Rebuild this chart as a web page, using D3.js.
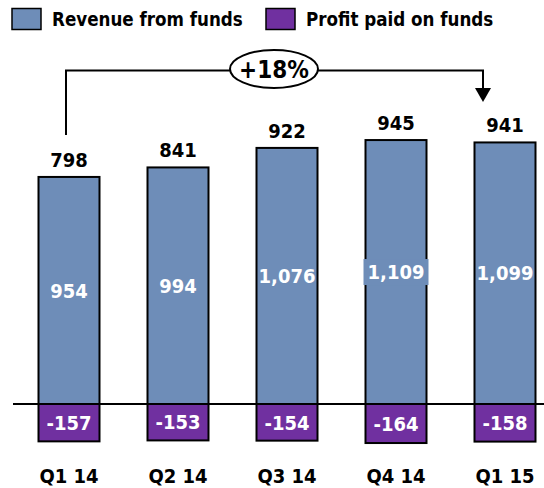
<!DOCTYPE html>
<html><head><meta charset="utf-8">
<script src="https://cdn.jsdelivr.net/npm/d3@7"></script>
<style>body{margin:0;background:#fff}svg{display:block}text{font-family:"DejaVu Sans Condensed","DejaVu Sans",sans-serif;font-weight:bold}</style>
</head><body><svg id="c" width="544" height="488"></svg>
<script>
const categories = ["Q1 14","Q2 14","Q3 14","Q4 14","Q1 15"];
const revenue = [954, 994, 1076, 1109, 1099];
const profitPaid = [-157, -153, -154, -164, -158];
const netLabels = [798, 841, 922, 945, 941];
const labelBoxed = [false, false, false, true, false];
const seriesNames = ["Revenue from funds","Profit paid on funds"];
const growthLabel = "+18%";

const BLUE = "#6E8DB8", PURPLE = "#7030A0";
const svg = d3.select("#c");
const x = d3.scalePoint().domain(categories).range([69, 505]);
const y = d3.scaleLinear().domain([0, 1000]).range([404, 166]);
const bw = 61;
const fmt = d3.format(",");

svg.append("line").attr("x1",13).attr("x2",544).attr("y1",y(0)).attr("y2",y(0))
  .attr("stroke","#000").attr("stroke-width",2);

const g = svg.append("g");
categories.forEach((c,i)=>{
  const cx = x(c);
  g.append("rect").attr("x",cx-bw/2).attr("width",bw)
    .attr("y",y(revenue[i])).attr("height",y(0)-y(revenue[i]))
    .attr("fill",BLUE).attr("stroke","#000").attr("stroke-width",2);
  g.append("rect").attr("x",cx-bw/2).attr("width",bw)
    .attr("y",y(0)).attr("height",y(profitPaid[i])-y(0))
    .attr("fill",PURPLE).attr("stroke","#000").attr("stroke-width",2);
  const ym = (y(revenue[i])+y(0))/2;
  const t = g.append("text").attr("x",cx).attr("y",ym).attr("dy","0.36em")
    .attr("text-anchor","middle").attr("fill","#fff").attr("font-size",20).text(fmt(revenue[i]));
  if (labelBoxed[i]) {
    const bb = t.node().getBBox();
    g.insert("rect", () => t.node()).attr("x",cx-32.5).attr("y",ym-13).attr("width",65).attr("height",26).attr("fill",BLUE);
  }
  g.append("text").attr("x",cx).attr("y",(y(profitPaid[i])+y(0))/2).attr("dy","0.36em")
    .attr("text-anchor","middle").attr("fill","#fff").attr("font-size",20).text(profitPaid[i]);
  g.append("text").attr("x",cx).attr("y",y(revenue[i])-10)
    .attr("text-anchor","middle").attr("fill","#000").attr("font-size",20).text(netLabels[i]);
  g.append("text").attr("x",cx).attr("y",476).attr("dy","0.36em")
    .attr("text-anchor","middle").attr("fill","#000").attr("font-size",20).text(c);
});

const lg = svg.append("g");
[[12,BLUE,52],[266,PURPLE,306]].forEach((d,i)=>{
  lg.append("rect").attr("x",d[0]).attr("y",8.5).attr("width",29).attr("height",21)
    .attr("fill",d[1]).attr("stroke","#000").attr("stroke-width",1.5);
  lg.append("text").attr("x",d[2]).attr("y",19).attr("dy","0.36em").attr("font-size",18.6).attr("fill","#000").text(seriesNames[i]);
});

const ax1 = x(categories[0]) - 3, ax2 = x(categories[4]) - 22, ay = 70.5;
svg.append("path").attr("d",`M${ax1},${y(revenue[0])-42}V${ay}H${ax2}V90`)
  .attr("stroke","#000").attr("stroke-width",2).attr("fill","none");
svg.append("path").attr("d",`M${ax2-8},88L${ax2+8},88L${ax2},102Z`).attr("fill","#000");
const ex = 274, ey = 69;
svg.append("ellipse").attr("cx",ex).attr("cy",ey).attr("rx",44).attr("ry",19)
  .attr("fill","#fff").attr("stroke","#000").attr("stroke-width",2);
svg.append("text").attr("x",ex).attr("y",ey).attr("dy","0.36em").attr("text-anchor","middle")
  .attr("font-size",24).attr("fill","#000").text(growthLabel);
</script></body></html>
